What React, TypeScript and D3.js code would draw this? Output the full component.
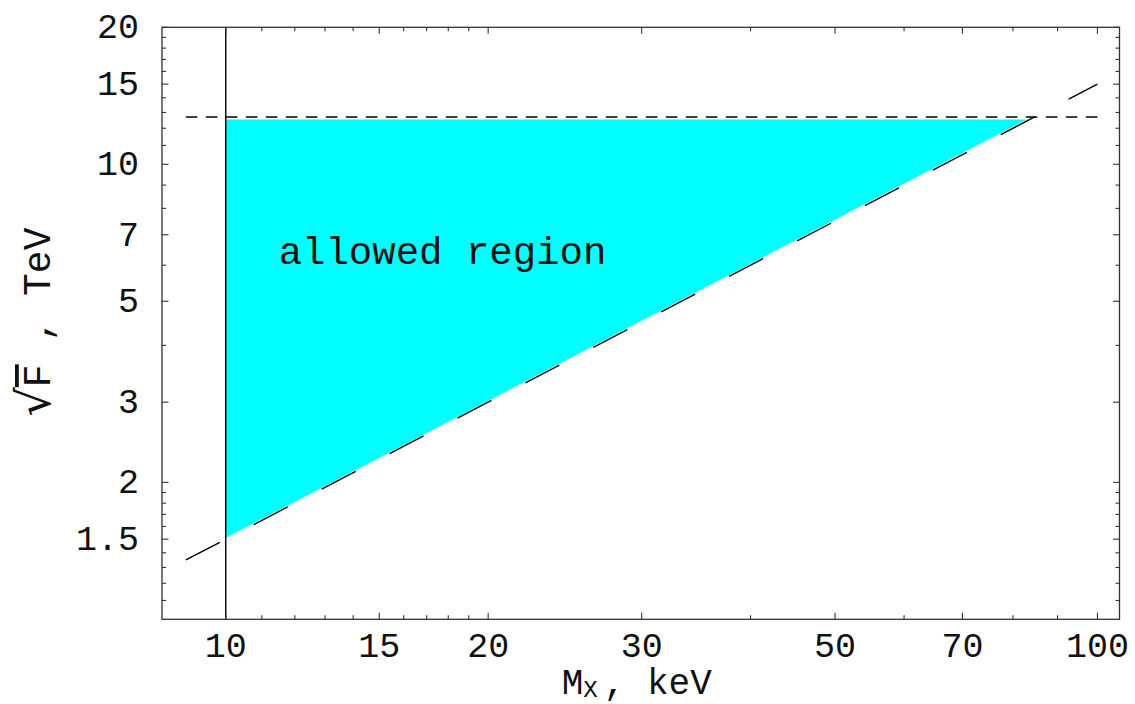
import React from 'react';
import * as d3 from 'd3';

// mass range (keV) and sqrt(F) (TeV)
const massDomain = [8.45, 106];
const sqrtFDomain = [1, 20];

// lower bound: sqrt(F) ~ 0.15 * M_X (long dashes)
const boundaryMass = [9, 100];
const boundarySqrtF = [1.35, 15];

// upper bound (short dashes)
const limitMass = [9, 100];
const limitSqrtF = [12.7, 12.7];

// vertical cut at M_X = 10 keV
const cutMass = 10;

// allowed region polygon
const regionMass = [10, 83, 10];
const regionSqrtF = [12.55, 12.55, 1.51];

const xMajor = [10, 15, 20, 30, 50, 70, 100];
const xMinor = [11, 12, 13, 14, 16, 17, 18, 19, 40, 60, 80, 90];
const yMajor = [1.5, 2, 3, 5, 7, 10, 15, 20];
const yMinor = [1.1, 1.2, 1.3, 1.4, 1.6, 1.7, 1.8, 1.9, 4, 6, 8, 9, 11, 12, 13, 14, 16, 17, 18, 19];

const W = 1135;
const H = 704;
const left = 162, right = 1119.5, top = 27.3, bottom = 619.3;
const FONT = '"Liberation Mono", "Courier New", monospace';

const App = () => {
  const x = d3.scaleLog().domain(massDomain).range([left, right]);
  const y = d3.scaleLog().domain(sqrtFDomain).range([bottom, top]);

  const line = d3.line<[number, number]>().x(d => x(d[0])).y(d => y(d[1]));

  const region = regionMass.map((m, i) => [m, regionSqrtF[i]] as [number, number]);
  const boundary = boundaryMass.map((m, i) => [m, boundarySqrtF[i]] as [number, number]);
  const limit = limitMass.map((m, i) => [m, limitSqrtF[i]] as [number, number]);

  const frame = '#333';
  const maj = 6.5, mnr = 4;

  return (
    <svg width={W} height={H} style={{ position: 'absolute', left: 0, top: 0, background: '#fff' }}>
      <path d={line(region) + 'Z'} fill="#00ffff" stroke="none" />
      <line x1={x(cutMass)} x2={x(cutMass)} y1={top} y2={bottom} stroke="#000" strokeWidth={1.4} />
      <path d={line(limit) || ''} fill="none" stroke="#000" strokeWidth={1.4} strokeDasharray="11.5,8.5" />
      <path d={line(boundary) || ''} fill="none" stroke="#000" strokeWidth={1.4} strokeDasharray="38.3,38.3" />

      {/* frame */}
      <rect x={left} y={top} width={right - left} height={bottom - top} fill="none" stroke={frame} strokeWidth={1.3} />

      {/* ticks on all four sides */}
      {xMajor.concat(xMinor).map((v, i) => {
        const len = xMajor.includes(v) ? maj : mnr;
        return (
          <g key={'xt' + i} stroke={frame} strokeWidth={1.1}>
            <line x1={x(v)} x2={x(v)} y1={bottom} y2={bottom - len} />
            <line x1={x(v)} x2={x(v)} y1={top} y2={top + len} />
          </g>
        );
      })}
      {yMajor.concat(yMinor).map((v, i) => {
        const len = yMajor.includes(v) ? maj : mnr;
        return (
          <g key={'yt' + i} stroke={frame} strokeWidth={1.1}>
            <line x1={left} x2={left + len} y1={y(v)} y2={y(v)} />
            <line x1={right} x2={right - len} y1={y(v)} y2={y(v)} />
          </g>
        );
      })}

      {/* tick labels */}
      {xMajor.map(v => (
        <text key={'xl' + v} x={x(v)} y={657} textAnchor="middle" fontFamily={FONT} fontSize={35} fill="#111">
          {v}
        </text>
      ))}
      {yMajor.map(v => (
        <text key={'yl' + v} x={139} y={y(v) + 11} textAnchor="end" fontFamily={FONT} fontSize={35} fill="#111">
          {v}
        </text>
      ))}

      {/* annotation */}
      <text x={x(11.5)} y={y(6.05)} fontFamily={FONT} fontSize={39} fill="#111">
        allowed region
      </text>

      {/* axis labels */}
      <text x={(left + right) / 2 - 4} y={694} textAnchor="middle" fontFamily={FONT} fontSize={36} fill="#111">
        M<tspan fontSize={24} dy={3}>X</tspan><tspan dy={-3} dx={6}>, keV</tspan>
      </text>
      <text transform="translate(50,322) rotate(-90)" textAnchor="middle" fontFamily={FONT} fontSize={38} fill="#111">
        <tspan fontSize={46} fontFamily="DejaVu Sans">√</tspan><tspan style={{ textDecoration: 'overline' }}>F</tspan> , TeV
      </text>
    </svg>
  );
};

export default App;
